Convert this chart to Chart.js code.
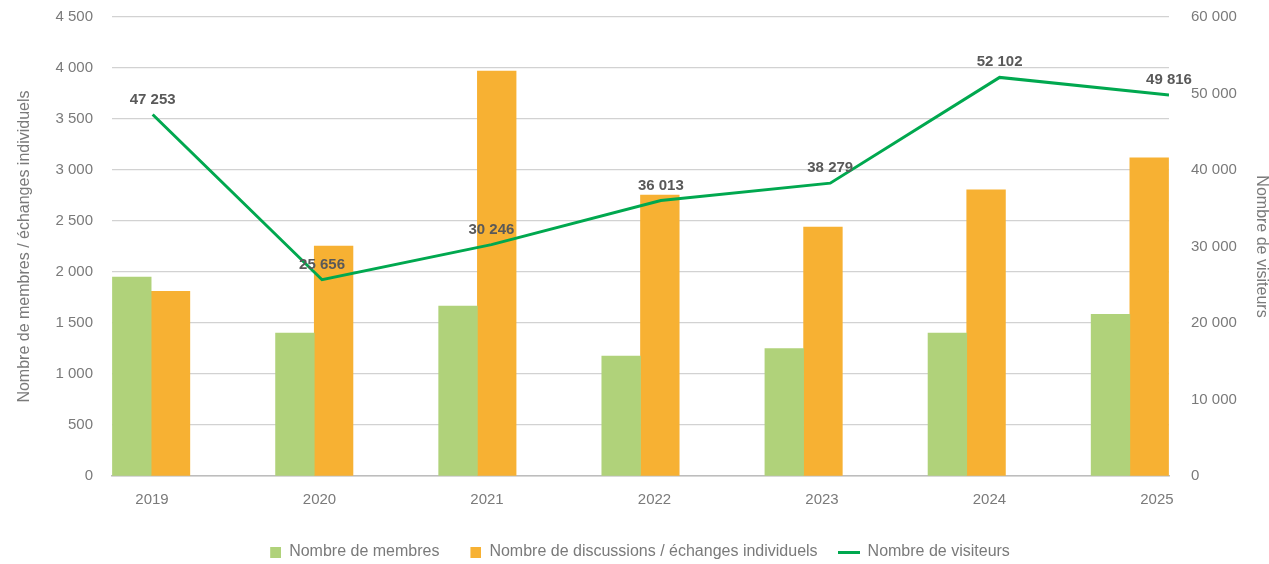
<!DOCTYPE html>
<html>
<head>
<meta charset="utf-8">
<script src="https://cdn.jsdelivr.net/npm/chart.js@4.4.1/dist/chart.umd.min.js"></script>
<style>
  html, body { margin: 0; padding: 0; background: #fff; }
  #wrap { width: 1269px; height: 564px; }
</style>
</head>
<body>
<div id="wrap"><canvas id="chart"></canvas></div>
<script>
// données
var years = ["2019", "2020", "2021", "2022", "2023", "2024", "2025"];
var membres = [1950, 1400, 1665, 1175, 1250, 1400, 1585];
var discussions = [1810, 2255, 3970, 2755, 2440, 2805, 3120];
var visiteurs = [47253, 25656, 30246, 36013, 38279, 52102, 49816];

var GREEN = "#b0d27a", ORANGE = "#f7b133", LINE = "#00a84f";
var TICK = "#7a7a7a", LABEL = "#595959";

function fmt(n) {
  return String(n).replace(/\B(?=(\d{3})+(?!\d))/g, " ");
}
function pts(arr) {
  return arr.map(function (v, i) { return {x: i, y: v}; });
}
function swatch(w, h, color, right) {
  var c = document.createElement("canvas");
  c.width = w; c.height = h;
  var g = c.getContext("2d");
  g.fillStyle = color;
  if (right) g.fillRect(w - h, 0, h, h); else g.fillRect(0, 0, w, h);
  return c;
}
function yearTicks(scale) {
  scale.ticks = years.map(function (_, i) { return {value: i}; });
}
// axe x masqué ; min/max décalés pour placer chaque série à gauche ou à droite de l'année
function hiddenX(min, max) {
  return {type: "linear", display: false, offset: false, min: min, max: max, afterBuildTicks: yearTicks};
}

Chart.defaults.font.family = "'Liberation Sans', Arial, sans-serif";
Chart.defaults.color = TICK;

var valueLabels = {
  id: "valueLabels",
  afterDatasetsDraw: function (chart) {
    var ctx = chart.ctx, meta = chart.getDatasetMeta(2);
    ctx.save();
    ctx.font = "bold 15px " + Chart.defaults.font.family;
    ctx.fillStyle = LABEL;
    ctx.textAlign = "center";
    ctx.textBaseline = "alphabetic";
    meta.data.forEach(function (p, i) {
      ctx.fillText(fmt(visiteurs[i]), p.x, p.y - 11);
    });
    ctx.restore();
  }
};

new Chart(document.getElementById("chart"), {
  type: "bar",
  data: {
    datasets: [
      {label: "Nombre de membres", data: pts(membres), backgroundColor: GREEN, grouped: false,
        xAxisID: "xg", yAxisID: "y", order: 2, barThickness: 38.7},
      {label: "Nombre de discussions / échanges individuels", data: pts(discussions), backgroundColor: ORANGE, grouped: false,
        xAxisID: "xo", yAxisID: "y", order: 2, barThickness: 38.7},
      {type: "line", label: "Nombre de visiteurs", data: pts(visiteurs), borderColor: LINE,
        backgroundColor: LINE, borderWidth: 3, pointRadius: 0, tension: 0,
        xAxisID: "x2", yAxisID: "y2", order: 1}
    ]
  },
  options: {
    responsive: true,
    maintainAspectRatio: false,
    animation: false,
    layout: {padding: {top: 17, bottom: -6, left: 0, right: 0}},
    plugins: {
      tooltip: {enabled: false},
      legend: {
        position: "bottom",
        labels: {
          usePointStyle: true,
          pointStyleWidth: 22,
          padding: 20,
          color: TICK,
          font: {size: 16},
          generateLabels: function (chart) {
            return [
              {text: "Nombre de membres", pointStyle: swatch(22, 11, GREEN, true), datasetIndex: 0, lineWidth: 0, fontColor: TICK},
              {text: "Nombre de discussions / échanges individuels", pointStyle: swatch(22, 11, ORANGE, true), datasetIndex: 1, lineWidth: 0, fontColor: TICK},
              {text: "Nombre de visiteurs", pointStyle: swatch(22, 3, LINE, false), datasetIndex: 2, lineWidth: 0, fontColor: TICK}
            ];
          }
        }
      }
    },
    scales: {
      xg: hiddenX(-0.1214, 6.3586),
      xo: hiddenX(-0.3586, 6.1214),
      x2: hiddenX(-0.24, 6),
      x3: {
        type: "linear", position: "bottom", offset: false, min: -0.239, max: 6.072,
        afterBuildTicks: yearTicks,
        afterFit: function (s) { s.height = 48; },
        grid: {display: false, drawTicks: false},
        border: {display: true, color: "#bdbdbd", width: 1.5},
        ticks: {padding: 15, color: TICK, font: {size: 15}, maxRotation: 0,
          callback: function (v) { return years[v]; }}
      },
      y: {
        position: "left", min: 0, max: 4500,
        afterFit: function (s) { s.width = 112; s.paddingTop = 8; s.paddingBottom = 8; },
        border: {display: false},
        grid: {color: "#d2d2d2", lineWidth: 1.3, drawTicks: false},
        ticks: {stepSize: 500, padding: 19, color: TICK, font: {size: 15}, callback: fmt},
        title: {display: true, text: "Nombre de membres / échanges individuels", color: TICK,
          font: {size: 16, lineHeight: 1}, padding: {top: 17, bottom: 0}}
      },
      y2: {
        position: "right", min: 0, max: 60000,
        afterFit: function (s) { s.width = 100; s.paddingTop = 8; s.paddingBottom = 8; },
        border: {display: false},
        grid: {display: false, drawTicks: false},
        ticks: {stepSize: 10000, padding: 22, color: TICK, font: {size: 15}, callback: fmt},
        title: {display: true, text: "Nombre de visiteurs", color: TICK,
          font: {size: 16, lineHeight: 1}, padding: {top: 0, bottom: 0}}
      }
    }
  },
  plugins: [valueLabels]
});
</script>
</body>
</html>
